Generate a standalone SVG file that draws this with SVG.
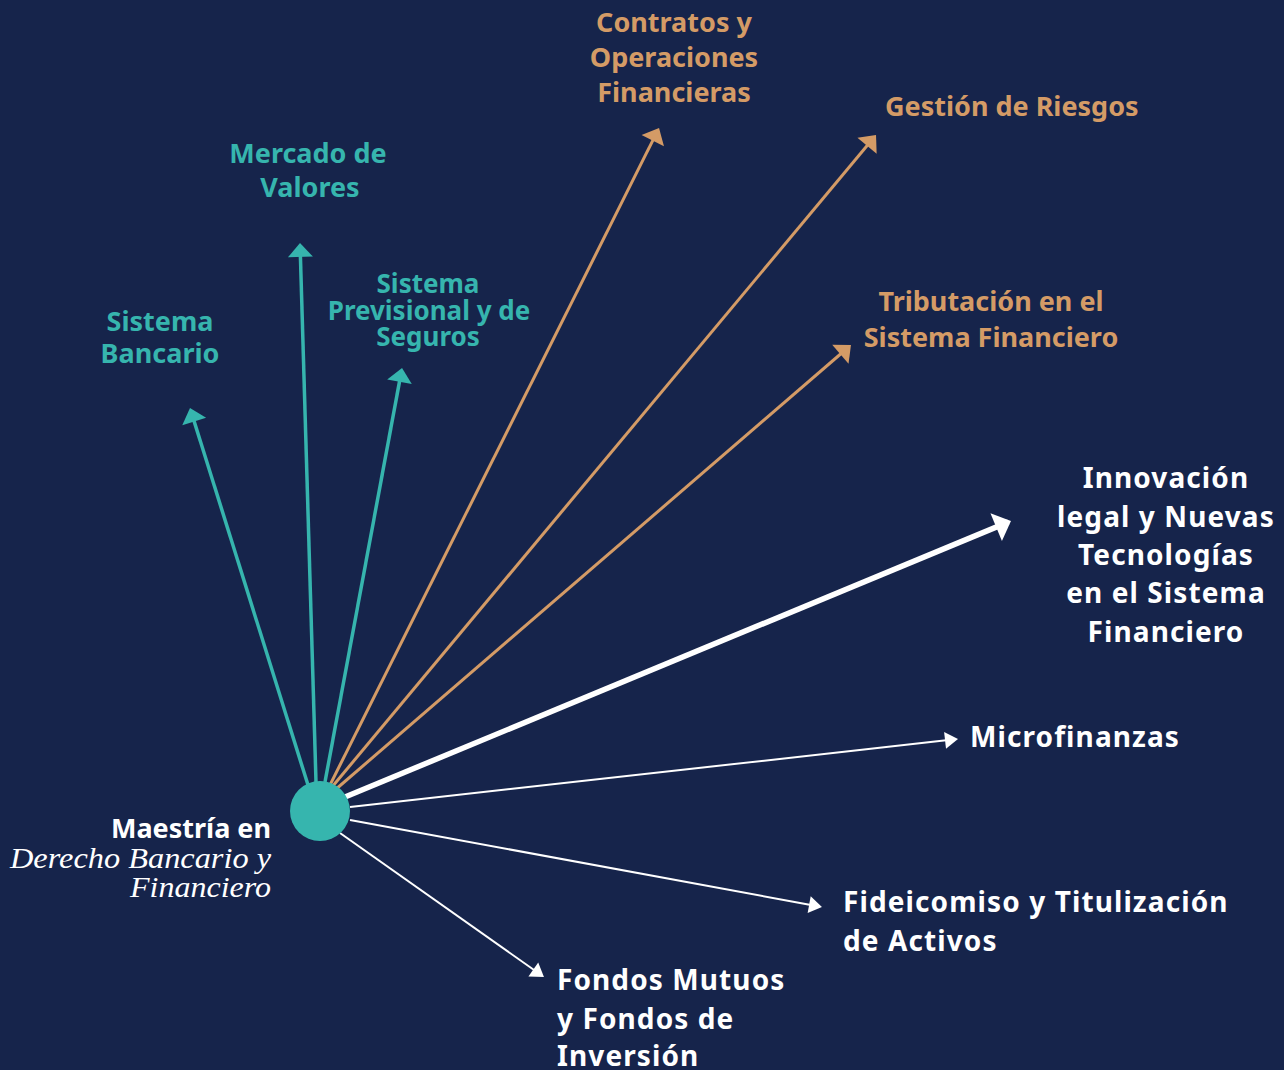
<svg xmlns="http://www.w3.org/2000/svg" width="1284" height="1070" viewBox="0 0 1284 1070">
<defs>
<style>
.lbl{font-family:"Noto Sans","Open Sans","Liberation Sans",sans-serif;font-weight:700;font-size:27px}
.big{font-size:28px;letter-spacing:1.1px}
.sm{font-size:26px}
.teal{fill:#36b5ae}
.tan{fill:#d49b66}
.wh{fill:#ffffff}
.it{font-family:"Liberation Serif","DejaVu Serif",serif;font-style:italic;font-size:29px;fill:#ffffff}
.c{text-anchor:middle}
.e{text-anchor:end}
.lt{stroke:#36b5ae;stroke-width:3.5;fill:none}
.ln{stroke:#d49b66;stroke-width:3;fill:none}
.lw{stroke:#ffffff;stroke-width:2;fill:none}
.lW{stroke:#ffffff;stroke-width:5.5;fill:none}
</style>
<marker id="aT" markerUnits="userSpaceOnUse" orient="auto" markerWidth="40" markerHeight="40" refX="11" refY="0" viewBox="-2 -20 20 40" overflow="visible"><path d="M0,-12.5 L14,0 L0,12.5 z" fill="#36b5ae"/></marker>
<marker id="aN" markerUnits="userSpaceOnUse" orient="auto" markerWidth="40" markerHeight="40" refX="11" refY="0" viewBox="-2 -20 20 40" overflow="visible"><path d="M0,-12.5 L14,0 L0,12.5 z" fill="#d49b66"/></marker>
<marker id="aW" markerUnits="userSpaceOnUse" orient="auto" markerWidth="40" markerHeight="40" refX="13" refY="0" viewBox="-2 -20 20 40" overflow="visible"><path d="M0,-15 L16,0 L0,15 z" fill="#ffffff"/></marker>
<marker id="aw" markerUnits="userSpaceOnUse" orient="auto" markerWidth="40" markerHeight="40" refX="10" refY="0" viewBox="-2 -20 20 40" overflow="visible"><path d="M0,-8.5 L13,0 L0,8.5 z" fill="#ffffff"/></marker>
</defs>
<rect width="1284" height="1070" fill="#16244b"/>
<g id="connectors">
<line class="lt" x1="308" y1="785" x2="190.9" y2="410.9" marker-end="url(#aT)"/>
<line class="lt" x1="316" y1="782" x2="300.1" y2="246" marker-end="url(#aT)"/>
<line class="lt" x1="325" y1="782" x2="401.5" y2="370.9" marker-end="url(#aT)"/>
<line class="ln" x1="330" y1="785" x2="657.7" y2="130.7" marker-end="url(#aN)"/>
<line class="ln" x1="332" y1="787" x2="874.1" y2="137.3" marker-end="url(#aN)"/>
<line class="ln" x1="335" y1="790" x2="848.7" y2="347" marker-end="url(#aN)"/>
<line class="lW" x1="345" y1="797" x2="1008.2" y2="522.1" marker-end="url(#aW)"/>
<line class="lw" x1="350" y1="807" x2="955" y2="739.3" marker-end="url(#aw)"/>
<line class="lw" x1="350" y1="820" x2="819" y2="906.5" marker-end="url(#aw)"/>
<line class="lw" x1="340" y1="833" x2="541.5" y2="975.3" marker-end="url(#aw)"/>
</g>
<g id="center">
<circle cx="320" cy="811" r="30" fill="#36b5ae"/>
<text class="lbl wh e" x="271" y="838">Maestría en</text>
<text class="it e" x="271" y="868" textLength="261" lengthAdjust="spacingAndGlyphs">Derecho Bancario y</text>
<text class="it e" x="271" y="897" textLength="141" lengthAdjust="spacingAndGlyphs">Financiero</text>
</g>
<g id="sistema-bancario"><text class="lbl teal c" x="160" y="331">Sistema</text><text class="lbl teal c" x="160" y="363">Bancario</text></g>
<g id="mercado-valores"><text class="lbl teal c" x="308" y="163">Mercado de</text><text class="lbl teal c" x="310" y="197">Valores</text></g>
<g id="sistema-previsional"><text class="lbl sm teal c" x="428" y="293">Sistema</text><text class="lbl sm teal c" x="429" y="320">Previsional y de</text><text class="lbl sm teal c" x="428" y="346">Seguros</text></g>
<g id="contratos"><text class="lbl tan c" x="674" y="32">Contratos y</text><text class="lbl tan c" x="674" y="67">Operaciones</text><text class="lbl tan c" x="674" y="102">Financieras</text></g>
<g id="gestion-riesgos"><text class="lbl tan" x="885" y="116">Gestión de Riesgos</text></g>
<g id="tributacion"><text class="lbl tan c" x="991" y="311">Tributación en el</text><text class="lbl tan c" x="991" y="347">Sistema Financiero</text></g>
<g id="innovacion"><text class="lbl big wh c" x="1166" y="488">Innovación</text><text class="lbl big wh c" x="1166" y="527">legal y Nuevas</text><text class="lbl big wh c" x="1166" y="565">Tecnologías</text><text class="lbl big wh c" x="1166" y="603">en el Sistema</text><text class="lbl big wh c" x="1166" y="642">Financiero</text></g>
<g id="microfinanzas"><text class="lbl big wh" x="970" y="747">Microfinanzas</text></g>
<g id="fideicomiso"><text class="lbl big wh" x="843" y="912">Fideicomiso y Titulización</text><text class="lbl big wh" x="843" y="951">de Activos</text></g>
<g id="fondos"><text class="lbl big wh" x="557" y="990">Fondos Mutuos</text><text class="lbl big wh" x="557" y="1029">y Fondos de</text><text class="lbl big wh" x="557" y="1066">Inversión</text></g>
</svg>
